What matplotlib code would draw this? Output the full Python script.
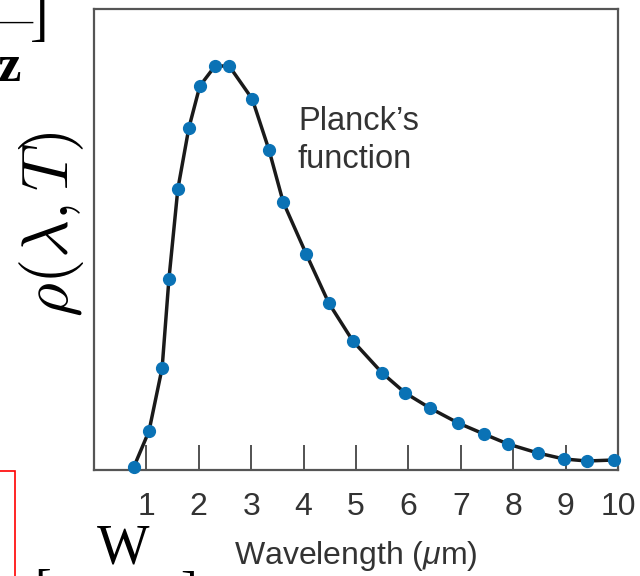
import matplotlib
matplotlib.use("Agg")
import matplotlib.pyplot as plt
from matplotlib.patches import Rectangle

plt.rcParams['font.family'] = ['Liberation Sans', 'DejaVu Sans']
plt.rcParams['mathtext.fontset'] = 'custom'
plt.rcParams['mathtext.rm'] = 'Liberation Sans'
plt.rcParams['mathtext.it'] = 'Liberation Sans:italic'

# Data (arbitrary y units)
wavelength = [0.76, 1.05, 1.30, 1.43, 1.60, 1.81, 2.02, 2.31, 2.58, 3.02, 3.34, 3.61,
              4.05, 4.48, 4.94, 5.50, 5.94, 6.41, 6.95, 7.44, 7.90, 8.47, 8.97, 9.41, 9.92]
rho = [3, 39, 102, 191, 281, 342, 384, 404, 404, 371, 320, 268,
       216, 167, 129, 97, 77, 62, 47, 36, 26, 17, 11, 9, 10]
xticks = [1, 2, 3, 4, 5, 6, 7, 8, 9, 10]
xtick_labels = ['1', '2', '3', '4', '5', '6', '7', '8', '9', '10']

W, H = 640, 576
fig = plt.figure(figsize=(W / 100, H / 100), dpi=100)
ax = fig.add_axes([94 / W, 1 - 470 / H, (618 - 94) / W, (470 - 9) / H])

ax.plot(wavelength, rho, color='#1a1a1a', lw=2.5, zorder=2, clip_on=False,
        solid_joinstyle='round')
ax.plot(wavelength, rho, 'o', color='#0a72b5', ms=8.5, zorder=3, clip_on=False)

ax.set_xlim(0, 10)
ax.set_ylim(0, 461)
ax.set_xticks(xticks)
ax.set_xticklabels(xtick_labels)
ax.set_yticks([])
ax.tick_params(axis='x', direction='in', length=18, width=1.3, color='#444444',
               pad=16, labelsize=23, labelcolor='#333333')
for s in ax.spines.values():
    s.set_color('#555555')
    s.set_linewidth(1.6)

ax.set_xlabel('Wavelength ($\\mathit{\\mu}$m)', fontsize=23, color='#333333', labelpad=12)

ax.text((298 - 94) / 52.4, 470 - 106, "Planck’s\nfunction",
        fontsize=23.5, color='#333333', va='top', ha='left', linespacing=1.3)

fig.text(51 / W, 1 - 224 / H, r'$\rho(\lambda,T)$', rotation=90, fontsize=47,
         ha='center', va='center', math_fontfamily='cm')

# Fragments of surrounding page at the edges
serif = ['Liberation Serif', 'DejaVu Serif']
fig.text(-4 / W, 1 - 22 / H, '—', fontsize=26, family=serif, ha='left', va='center')
fig.text(30 / W, 1 - 20 / H, ']', fontsize=40, family=serif, ha='left', va='center')
fig.text(-2 / W, 1 - 68 / H, 'z', fontsize=38, family=serif, fontweight='bold', ha='left', va='center')
fig.text(123 / W, 1 - 550 / H, 'W', fontsize=40, family=serif, ha='center', va='center')
fig.text(34 / W, 1 - 592 / H, '[', fontsize=36, family=serif, ha='left', va='center')
fig.text(180 / W, 1 - 594 / H, ']', fontsize=36, family=serif, ha='left', va='center')
fig.patches.append(Rectangle((-10 / W, -10 / H), 25 / W, (10 + 105) / H,
                             transform=fig.transFigure, fill=False, ec='red', lw=1.2))

fig.savefig('out.png', dpi=100)
